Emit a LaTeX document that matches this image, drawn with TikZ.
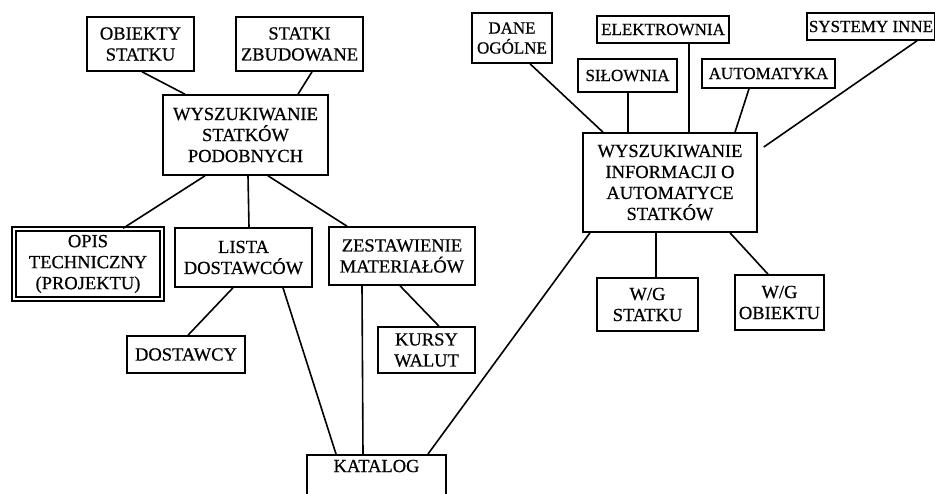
\documentclass[tikz,border=0pt]{standalone}
\usepackage{fontspec}
\setmainfont{Liberation Serif}[FakeBold=0.6]
\usepackage{xcolor}
\usepackage[]{tikz}
\usetikzlibrary{positioning,calc}
\usetikzlibrary{arrows.meta,arrows}
\tikzset{box node/.style={rectangle,draw,line width=1.6pt,align=center,inner sep=1pt,
    font=\fontsize{18.5}{21}\selectfont}}
\tikzset{small node/.style={box node,font=\fontsize{17}{20}\selectfont}}
\tikzset{link/.style={line width=1.6pt}}

\begin{document}
\begin{tikzpicture}[x=1pt, y=-1pt]
      \useasboundingbox (0,0) rectangle (935,493);
      % wyszukiwanie statkow podobnych
      \node[box node, minimum width=107pt, minimum height=54pt] (obs) at (140.5,44) {OBIEKTY\\STATKU};
      \node[box node, minimum width=127pt, minimum height=54pt] (szb) at (299.5,44) {STATKI\\ZBUDOWANE};
      \node[box node, minimum width=165pt, minimum height=80pt] (wsp) at (245.5,135) {WYSZUKIWANIE\\STATKÓW\\PODOBNYCH};
      \node[box node, double, double distance=2.5pt, line width=1.4pt, minimum width=148pt, minimum height=70pt] (opis) at (88,264) {OPIS\\TECHNICZNY\\(PROJEKTU)};
      \node[box node, minimum width=137pt, minimum height=59pt] (lista) at (243.5,257.5) {LISTA\\DOSTAWCÓW};
      \node[box node, minimum width=146pt, minimum height=58pt] (zest) at (402,256) {ZESTAWIENIE\\MATERIAŁÓW};
      \node[box node, minimum width=118pt, minimum height=37pt] (dost) at (186,354.5) {DOSTAWCY};
      \node[box node, minimum width=97pt, minimum height=46pt] (kurs) at (426.5,350) {KURSY\\WALUT};
      \node[box node, anchor=north, minimum width=139pt, inner ysep=5pt, text depth=35pt] (kat) at (376.5,454) {KATALOG};
      % wyszukiwanie informacji o automatyce
      \node[small node, minimum width=80pt, minimum height=50pt] (dane) at (512,38) {DANE\\OGÓLNE};
      \node[small node, minimum width=132pt, minimum height=27pt] (elek) at (663,29.5) {ELEKTROWNIA};
      \node[small node, minimum width=99pt, minimum height=33pt] (silo) at (627.5,75.5) {SIŁOWNIA};
      \node[small node, minimum width=133pt, minimum height=29pt] (auto) at (768.5,73.5) {AUTOMATYKA};
      \node[small node, minimum width=128pt, minimum height=27pt] (sys) at (871,26.5) {SYSTEMY INNE};
      \node[box node, minimum width=174pt, minimum height=99pt] (wsi) at (670,182.5) {WYSZUKIWANIE\\INFORMACJI O\\AUTOMATYCE\\STATKÓW};
      \node[box node, minimum width=101pt, minimum height=53pt] (wgs) at (647.5,304.5) {W/G\\STATKU};
      \node[box node, minimum width=89pt, minimum height=55pt] (wgo) at (779.5,302.5) {W/G\\OBIEKTU};

      \draw[link] ([xshift=1.5pt]obs.south) edge[] ([xshift=-60.5pt]wsp.north);
      \draw[link] ([xshift=12.5pt]szb.south) edge[] ([xshift=52.5pt]wsp.north);
      \draw[link] ([xshift=-40.5pt]wsp.south) edge[] ([xshift=35pt]opis.north);
      \draw[link] ([xshift=2.5pt]wsp.south) edge[] ([xshift=5.5pt]lista.north);
      \draw[link] ([xshift=22.5pt]wsp.south) edge[] ([xshift=-55pt]zest.north);
      \draw[link] ([xshift=-10.5pt]lista.south) edge[] ([xshift=2pt]dost.north);
      \draw[link] ([xshift=39.5pt]lista.south) edge[] ([xshift=-40.5pt]kat.north);
      \draw[link] ([xshift=-40pt]zest.south) edge[] ([xshift=-13.5pt]kat.north);
      \draw[link] ([xshift=-2pt]zest.south) edge[] ([xshift=12.5pt]kurs.north);
      \draw[link] ([xshift=51.5pt]kat.north) edge[] ([xshift=-80pt]wsi.south);
      \draw[link] ([xshift=18pt]dane.south) edge[] ([xshift=-67pt]wsi.north);
      \draw[link] ([xshift=0.5pt]silo.south) edge[] ([xshift=-42pt]wsi.north);
      \draw[link] ([xshift=26pt]elek.south) edge[] ([xshift=19pt]wsi.north);
      \draw[link] ([xshift=-19.5pt]auto.south) edge[] ([xshift=65pt]wsi.north);
      \draw[link] ([xshift=46pt]sys.south) edge[] ([xshift=6pt,yshift=35.5pt]wsi.east);
      \draw[link] ([xshift=-14pt]wsi.south) edge[] ([xshift=8.5pt]wgs.north);
      \draw[link] ([xshift=60pt]wsi.south) edge[] ([xshift=-11.5pt]wgo.north);
    \end{tikzpicture}
\end{document}
